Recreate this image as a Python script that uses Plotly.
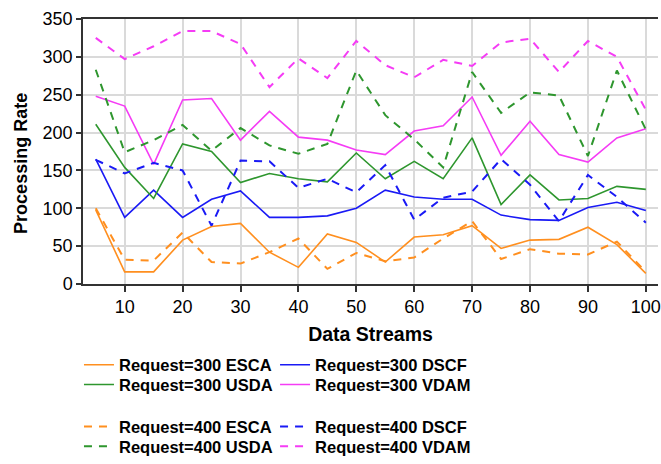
import plotly.graph_objects as go

streams = [5, 10, 15, 20, 25, 30, 35, 40, 45, 50, 55, 60, 65, 70, 75, 80, 85, 90, 95, 100]

esca_300 = [98, 16, 16, 58, 76, 80, 42, 22, 66, 55, 29, 62, 65, 77, 47, 58, 59, 75, 52, 14]
dscf_300 = [165, 88, 124, 88, 112, 123, 88, 88, 90, 100, 124, 115, 112, 112, 91, 85, 84, 101, 108, 97]
usda_300 = [211, 154, 113, 185, 175, 134, 146, 139, 135, 173, 139, 162, 139, 193, 105, 144, 111, 113, 129, 125]
vdam_300 = [248, 235, 158, 243, 245, 190, 228, 194, 190, 177, 171, 202, 209, 247, 170, 215, 171, 161, 193, 205]

esca_400 = [100, 32, 31, 68, 29, 27, 42, 60, 20, 41, 30, 35, 60, 83, 33, 46, 40, 39, 56, 16]
dscf_400 = [164, 146, 160, 150, 77, 163, 162, 127, 139, 121, 157, 85, 114, 122, 165, 131, 83, 144, 115, 81]
usda_400 = [283, 174, 190, 210, 176, 206, 183, 172, 185, 282, 223, 191, 154, 280, 226, 253, 249, 169, 282, 204]
vdam_400 = [325, 297, 314, 334, 334, 317, 260, 298, 272, 321, 289, 273, 296, 288, 319, 324, 280, 321, 300, 230]

methods = ["ESCA", "DSCF", "USDA", "VDAM"]
colors = ["#FF8F1F", "#1A1AF5", "#2E962E", "#F53CF5"]
series_300 = [esca_300, dscf_300, usda_300, vdam_300]
series_400 = [esca_400, dscf_400, usda_400, vdam_400]

x_title = "Data Streams"
y_title = "Processing Rate"

# one legend per entry: (x paper, y paper)
legend_cols = [-0.007, 0.334]
legend_rows_300 = [-0.306, -0.380]
legend_rows_400 = [-0.539, -0.613]

legend_font = dict(family="Liberation Sans, Arial, sans-serif", size=16.5, color="black", weight="bold")

def leg(x, y):
    return dict(orientation="v", x=x, xanchor="left", y=y, yanchor="middle",
                font=legend_font, bgcolor="rgba(0,0,0,0)", borderwidth=0, itemwidth=30)

fig = go.Figure()
layout_legends = {}
idx = 0
for group, rows, dash, width in [(series_300, legend_rows_300, None, 1.6),
                                 (series_400, legend_rows_400, "8px,7px", 2)]:
    req = "300" if group is series_300 else "400"
    for i, (m, c, ys) in enumerate(zip(methods, colors, group)):
        idx += 1
        lname = "legend" if idx == 1 else f"legend{idx}"
        layout_legends[lname] = leg(legend_cols[i % 2], rows[i // 2])
        line = dict(color=c, width=width)
        if dash:
            line["dash"] = dash
        fig.add_trace(go.Scatter(x=streams, y=ys, mode="lines", name=f"Request={req} {m}",
                                 line=line, legend=lname, showlegend=True))

fig.update_layout(
    width=661, height=464,
    showlegend=True,
    margin=dict(l=83, r=0, t=19, b=175),
    paper_bgcolor="white", plot_bgcolor="white",
    font=dict(family="Liberation Sans, Arial, sans-serif", color="black"),
    xaxis=dict(range=[2.8, 102.1], tickvals=[10, 20, 30, 40, 50, 60, 70, 80, 90, 100],
               showgrid=True, gridcolor="#DADADA", gridwidth=1.5,
               showline=True, linecolor="#333333", linewidth=1.5, mirror=True,
               ticks="outside", ticklen=6, tickcolor="#333333", tickwidth=1.5,
               tickfont=dict(size=18), zeroline=False, ticklabeloverflow="allow",
               title=dict(text=x_title, font=dict(size=19.5, weight="bold"), standoff=11)),
    yaxis=dict(range=[0, 350], dtick=50,
               showgrid=True, gridcolor="#DADADA", gridwidth=1.5,
               showline=True, linecolor="#333333", linewidth=1.5,
               ticks="outside", ticklen=5, tickcolor="#333333", tickwidth=1.5,
               tickfont=dict(size=18), zeroline=False),
    annotations=[dict(text=y_title, xref="paper", yref="paper", x=-0.107, y=0.455,
                      xanchor="center", yanchor="middle", textangle=-90, showarrow=False,
                      font=dict(size=18, weight="bold"))],
    **layout_legends,
)

fig.write_html("out.html")
